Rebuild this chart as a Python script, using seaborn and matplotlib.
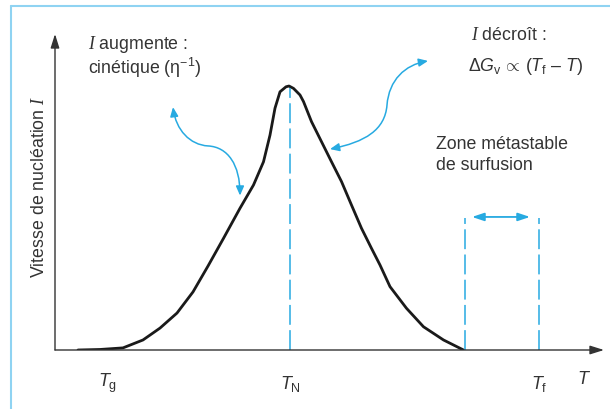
import matplotlib
matplotlib.use("Agg")
import matplotlib.pyplot as plt
from matplotlib.path import Path
from matplotlib.patches import FancyArrowPatch
from matplotlib.lines import Line2D
import pandas as pd
import seaborn as sns

# Nucleation rate I versus temperature T (arbitrary units, peak = 1)
temperature = [4.6, 9.0, 13.6, 17.6, 21.0, 24.4, 27.6, 30.6, 33.7, 37.0,
               39.7, 41.7, 43.0, 44.0, 45.0, 46.2, 46.8, 47.7, 49.0, 49.7,
               51.3, 53.3, 55.3, 57.3, 59.3, 61.3, 63.3, 65.0, 67.0, 70.3,
               73.7, 77.7, 81.7]
rate = [0.000, 0.002, 0.008, 0.038, 0.083, 0.140, 0.220, 0.318, 0.423,
        0.537, 0.625, 0.713, 0.814, 0.916, 0.978, 0.997, 1.000, 0.991,
        0.966, 0.941, 0.865, 0.789, 0.713, 0.638, 0.549, 0.461, 0.385,
        0.322, 0.240, 0.158, 0.088, 0.038, 0.000]

T_g, T_N, T_f = 10.6, 47.0, 96.8
T_zone = 82.0
tick_labels = [r"$T_{\mathrm{g}}$", r"$T_{\mathrm{N}}$", r"$T_{\mathrm{f}}$"]

BLUE = "#27aae1"
INK = "#333333"

sns.set_theme(style="white")
plt.rcParams["font.family"] = ["Liberation Sans", "DejaVu Sans"]
plt.rcParams["mathtext.fontset"] = "custom"
plt.rcParams["mathtext.rm"] = "Liberation Sans"
plt.rcParams["mathtext.it"] = "Liberation Sans:italic"
plt.rcParams["mathtext.cal"] = "Liberation Serif:italic"

fig = plt.figure(figsize=(6.10, 4.09), dpi=100)
ax = fig.add_axes([55 / 610, 59 / 409, 549 / 610, 316 / 409])
ax.set_xlim(0, 109.8)
ax.set_ylim(0, 1.197)
for s in ax.spines.values():
    s.set_visible(False)
ax.set_xticks([])
ax.set_yticks([])
ax.patch.set_alpha(0)

# axes with arrow heads
ax.annotate("", xy=(1, 0), xytext=(0, 0), xycoords="axes fraction",
            arrowprops=dict(arrowstyle="-|>,head_length=0.7,head_width=0.22",
                            color=INK, lw=1.0, shrinkA=0, shrinkB=0))
ax.annotate("", xy=(0, 1), xytext=(0, 0), xycoords="axes fraction",
            arrowprops=dict(arrowstyle="-|>,head_length=0.7,head_width=0.22",
                            color=INK, lw=1.0, shrinkA=0, shrinkB=0))

# nucleation curve
df = pd.DataFrame({"T": temperature, "I": rate})
sns.lineplot(data=df, x="T", y="I", ax=ax, color="#1a1a1a", lw=2.0,
             sort=False, legend=False, solid_joinstyle="round",
             solid_capstyle="round")

# dashed reference lines
dash = (0, (13, 3.5))
ax.plot([T_N, T_N], [0, 0.992], color=BLUE, lw=1.1, ls=dash)
ax.plot([T_zone, T_zone], [0, 0.50], color=BLUE, lw=1.1, ls=dash)
ax.plot([T_f, T_f], [0, 0.50], color=BLUE, lw=1.1, ls=dash)

# metastable zone double arrow
ax.annotate("", xy=(95.0, 0.504), xytext=(83.4, 0.504),
            arrowprops=dict(arrowstyle="<|-|>,head_length=0.6,head_width=0.2",
                            color=BLUE, lw=1.3, shrinkA=0, shrinkB=0))

# curly double arrows
def curly(points):
    codes = [Path.MOVETO] + [Path.CURVE4] * (len(points) - 1)
    p = FancyArrowPatch(path=Path(points, codes),
                        arrowstyle="<|-|>,head_length=5.5,head_width=2.4",
                        color=BLUE, lw=1.1, shrinkA=0, shrinkB=0)
    ax.add_patch(p)

curly([(23.6, 0.920), (24.2, 0.833), (27.0, 0.777), (30.6, 0.773),
       (34.6, 0.769), (37.0, 0.701), (37.0, 0.585)])
curly([(55.0, 0.761), (62.0, 0.788), (66.0, 0.833), (66.4, 0.928),
       (66.8, 1.023), (70.0, 1.080), (74.6, 1.095)])

fs = 12.8
ax.text(6.6, 1.159, r"$\mathcal{I}$ augmente :", fontsize=fs, color=INK,
        va="center", ha="left")
ax.text(6.6, 1.068, r"cinétique (η$^{-1}$)", fontsize=fs, color=INK,
        va="center", ha="left")
ax.text(83.2, 1.191, r"$\mathcal{I}$ décroît :", fontsize=fs, color=INK,
        va="center", ha="left")
ax.text(82.6, 1.072,
        r"Δ$G_{\mathrm{v}}$ $\!\propto\!$ ($T_{\mathrm{f}}$ – $T$)",
        fontsize=fs, color=INK, va="center", ha="left")
ax.text(76.2, 0.780, "Zone métastable", fontsize=fs, color=INK,
        va="center", ha="left")
ax.text(76.2, 0.697, "de surfusion", fontsize=fs, color=INK,
        va="center", ha="left")

for xv, lab in zip([T_g, T_N, T_f], tick_labels):
    ax.text(xv, -0.128, lab, fontsize=13, color=INK, ha="center", va="center")
ax.text(105.8, -0.113, r"$T$", fontsize=13, color=INK, ha="center", va="center")

fig.text(40 / 610, 1 - 187 / 409, r"Vitesse de nucléation $\mathcal{I}$",
         rotation=90, fontsize=12.8, color=INK, ha="center", va="center")

# thin frame around the figure
fig.add_artist(Line2D([11 / 610, 11 / 610], [0, 1 - 6 / 409],
                      transform=fig.transFigure, color="#8fd3f2", lw=1.5))
fig.add_artist(Line2D([11 / 610, 1], [1 - 6 / 409, 1 - 6 / 409],
                      transform=fig.transFigure, color="#8fd3f2", lw=1.5))

fig.savefig("out.png", dpi=100)
